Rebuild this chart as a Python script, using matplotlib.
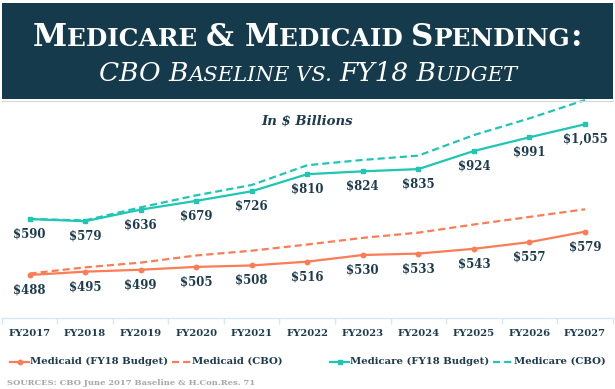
import matplotlib
matplotlib.use("Agg")
import matplotlib.pyplot as plt
from matplotlib.patches import Rectangle
from matplotlib.lines import Line2D

years = ["FY2017", "FY2018", "FY2019", "FY2020", "FY2021", "FY2022",
         "FY2023", "FY2024", "FY2025", "FY2026", "FY2027"]
medicare_budget = [590, 579, 636, 679, 726, 810, 824, 835, 924, 991, 1055]
medicare_cbo = [590, 583, 647, 706, 757, 854, 880, 901, 1002, 1084, 1174]
medicaid_budget = [488, 495, 499, 505, 508, 516, 530, 533, 543, 557, 579]
medicaid_cbo = [491, 504, 514, 529, 539, 552, 566, 577, 594, 610, 626]

W, H = 615, 389
navy = "#143a4c"
text_navy = "#1d3b4d"
orange = "#fb7c55"
teal = "#1fc6b4"
axis_blue = "#d5e9f1"

fig = plt.figure(figsize=(W / 100, H / 100), dpi=100)
fig.patch.set_facecolor("white")

def fx(px):
    return px / W

def fy(py):
    return 1 - py / H

# main axes (Medicare) and twin (Medicaid) -- the two series use different scales
ax = fig.add_axes([fx(1.75), fy(317.5), fx(611), 217.5 / H])
ax2 = ax.twinx()
x = list(range(len(years)))

ax.set_xlim(-0.5, len(years) - 0.5)
ax.set_ylim(106.4, 1174.2)
ax2.set_ylim(398.7, 855.6)

for a in (ax, ax2):
    a.patch.set_visible(False)
    for s in ("top", "left", "right"):
        a.spines[s].set_visible(False)
    a.set_yticks([])
ax2.spines["bottom"].set_visible(False)
ax2.tick_params(bottom=False, labelbottom=False)
ax.spines["bottom"].set_color(axis_blue)
ax.spines["bottom"].set_linewidth(1.0)

ax.set_xticks(x)
ax.set_xticklabels(years, fontfamily="DejaVu Serif", fontweight="bold",
                   fontsize=7.2, color=text_navy)
ax.tick_params(axis="x", which="major", length=0, pad=8)
ax.set_xticks([i - 0.5 for i in range(len(years) + 1)], minor=True)
ax.tick_params(axis="x", which="minor", length=4, color=axis_blue, width=1.0)

lw = 1.6
dash = (0, (3.2, 1.8))
ax.plot(x, medicare_cbo, color=teal, lw=lw, ls=dash, clip_on=False, zorder=2)
ax.plot(x, medicare_budget, color=teal, lw=lw, marker="s", ms=3.5, clip_on=False, zorder=3)
ax2.plot(x, medicaid_cbo, color=orange, lw=lw, ls=dash, clip_on=False, zorder=2)
ax2.plot(x, medicaid_budget, color=orange, lw=lw, marker="o", ms=3.2, clip_on=False, zorder=3)

lab_kw = dict(textcoords="offset pixels", xytext=(0, -15), ha="center", va="center",
              fontfamily="DejaVu Serif", fontweight="bold", fontsize=8.5, color=text_navy)
for i, v in enumerate(medicare_budget):
    ax.annotate("${:,}".format(v), (i, v), **lab_kw)
for i, v in enumerate(medicaid_budget):
    ax2.annotate("${:,}".format(v), (i, v), **lab_kw)

fig.text(fx(307), fy(121), "In $ Billions", ha="center", va="center",
         fontfamily="DejaVu Serif", fontweight="bold", fontstyle="italic",
         fontsize=9.5, color=text_navy)

# header box
fig.patches.append(Rectangle((fx(2), fy(99.5)), fx(611), 96.5 / H,
                             transform=fig.transFigure, facecolor=navy,
                             edgecolor="none", zorder=5))
fig.add_artist(Line2D([fx(2), fx(613)], [fy(100.5), fy(100.5)], color="#cfd8dc",
                      lw=0.8, transform=fig.transFigure, zorder=5))

renderer = fig.canvas.get_renderer()

def small_caps(parts, center_px, baseline_py, target_w, big, ratio, style):
    # parts: list of (text, is_big); scale font so line fits target width
    def build(size):
        ts = []
        for t, b in parts:
            ts.append(fig.text(0, fy(baseline_py), t, fontsize=size if b else size * ratio,
                               fontfamily="DejaVu Serif", fontweight="bold" if style == "normal" else "normal",
                               fontstyle=style, color="white", va="baseline", ha="left", zorder=6))
        widths = [t.get_window_extent(renderer).width for t in ts]
        return ts, widths
    ts, widths = build(big)
    scale = target_w / sum(widths)
    for t in ts:
        t.remove()
    ts, widths = build(big * scale)
    xpos = center_px - sum(widths) / 2
    for t, w in zip(ts, widths):
        t.set_x(fx(xpos))
        xpos += w

line1 = [("M", True), ("EDICARE ", False), ("& ", True), ("M", True), ("EDICAID ", False),
         ("S", True), ("PENDING", False), (":", True)]
line2 = [("CBO B", True), ("ASELINE VS. ", False), ("FY18 B", True), ("UDGET", False)]
small_caps(line1, 307.5, 46.5, 549, 22, 0.8, "normal")
small_caps(line2, 308, 81, 418, 17, 0.8, "italic")

# legend drawn by hand at the column positions of the original
entries = [("Medicaid (FY18 Budget)", orange, "-", "o", 10),
           ("Medicaid (CBO)", orange, dash, None, 172),
           ("Medicare (FY18 Budget)", teal, "-", "s", 330),
           ("Medicare (CBO)", teal, dash, None, 493)]
ly = 361.5
for name, col, ls, mk, x0 in entries:
    fig.add_artist(Line2D([fx(x0), fx(x0 + 19)], [fy(ly), fy(ly)], color=col, lw=lw, ls=ls,
                          transform=fig.transFigure))
    if mk:
        fig.add_artist(Line2D([fx(x0 + 9.5)], [fy(ly)], color=col, marker=mk, ms=3.2,
                              transform=fig.transFigure))
    fig.text(fx(x0 + 20.5), fy(ly), name, ha="left", va="center", fontfamily="DejaVu Serif",
             fontweight="bold", fontsize=7.3, color=text_navy)

fig.text(fx(7), fy(383), "SOURCES: CBO June 2017 Baseline & H.Con.Res. 71", ha="left",
         va="center", fontfamily="DejaVu Serif", fontweight="bold", fontsize=6.0,
         color="#a3a8ab")

fig.savefig("out.png", dpi=100)
